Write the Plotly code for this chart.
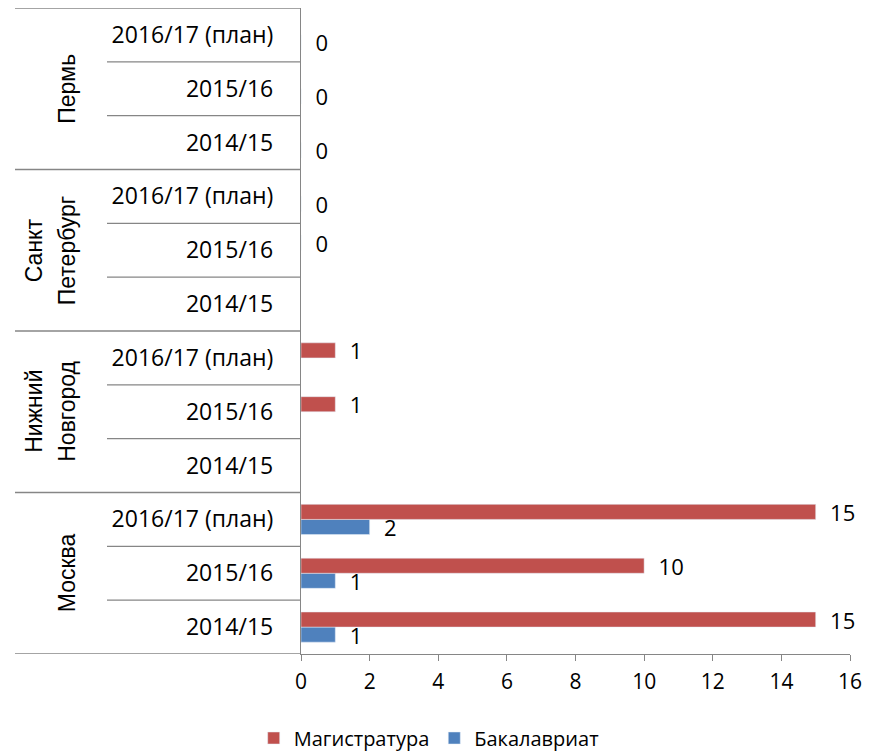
import plotly.graph_objects as go

# категории снизу вверх
cities = ["Москва", "Нижний<br>Новгород", "Санкт<br>Петербург", "Пермь"]
years = ["2014/15", "2015/16", "2016/17 (план)"]

# значения по порядку: город x год (снизу вверх)
bachelor = [1, 1, 2, None, None, None, None, None, 0, 0, 0, 0]
master = [15, 10, 15, None, 1, 1, None, 0, None, None, None, None]

RED = "#C0504D"
BLUE = "#4F81BD"
GREY = "#868686"
FONT = "Open Sans"
FS = 22

# страница имеет отступ 8px, поэтому фигура чуть меньше окна
W, H = 871, 743
L, R, T, B = 293, 29, 0, 97
PW = W - L - R

categories = [f"{c}|{y}" for c in cities for y in years]
tick_text = [y for c in cities for y in years]

fig = go.Figure()
for name, vals, color, rank in [("Бакалавриат", bachelor, BLUE, 2),
                                ("Магистратура", master, RED, 1)]:
    fig.add_trace(go.Bar(
        name=name,
        y=categories,
        x=vals,
        orientation="h",
        marker=dict(color=color),
        texttemplate="  %{x}",
        textposition="outside",
        textfont=dict(family=FONT, size=FS, color="black"),
        constraintext="none",
        cliponaxis=False,
        legendrank=rank,
    ))

# разделители категорий слева от оси
x_year = -194 / PW
x_city = -286 / PW
shapes = []
for i in range(len(categories) + 1):
    x0 = x_city if i % len(years) == 0 else x_year
    shapes.append(dict(
        type="line", xref="paper", yref="y",
        x0=x0, x1=0, y0=i - 0.5, y1=i - 0.5,
        line=dict(color=GREY, width=1.3),
    ))

# подписи городов: последняя строка на одном месте, предыдущие левее
annotations = []
for k, city in enumerate(cities):
    lines = city.split("<br>")
    for j, line in enumerate(lines):
        shift = (len(lines) - 1 - j) * 33
        annotations.append(dict(
            text=line, xref="paper", yref="y",
            x=(-234 - shift) / PW, y=k * len(years) + 1,
            showarrow=False, textangle=-90,
            font=dict(family="Liberation Sans", size=23, color="black"),
            xanchor="center", yanchor="middle",
        ))

fig.update_layout(
    width=W,
    height=H,
    margin=dict(l=L, r=R, t=T, b=B, autoexpand=False),
    paper_bgcolor="white",
    plot_bgcolor="white",
    font=dict(family=FONT, size=FS, color="black"),
    barmode="group",
    bargap=0.44,
    bargroupgap=0,
    shapes=shapes,
    annotations=annotations,
    legend=dict(
        orientation="h",
        xref="container", yref="container",
        x=0.483, xanchor="center",
        y=1 - 730 / H, yanchor="middle",
        font=dict(family=FONT, size=20),
        itemwidth=30,
    ),
    showlegend=True,
)
fig.update_xaxes(
    range=[0, 16],
    dtick=2,
    showgrid=False,
    zeroline=False,
    showline=True,
    linecolor=GREY,
    linewidth=1.3,
    ticks="outside",
    ticklen=6,
    tickcolor=GREY,
    tickfont=dict(size=21),
    ticklabelstandoff=3,
    automargin=False,
)
fig.update_yaxes(
    type="category",
    categoryorder="array",
    categoryarray=categories,
    tickvals=categories,
    ticktext=tick_text,
    tickfont=dict(size=23),
    showgrid=False,
    showline=True,
    linecolor=GREY,
    linewidth=1.3,
    ticks="",
    ticklabelstandoff=22,
    range=[-0.5, len(categories) - 0.5],
    automargin=False,
)

fig.write_html("out.html")
